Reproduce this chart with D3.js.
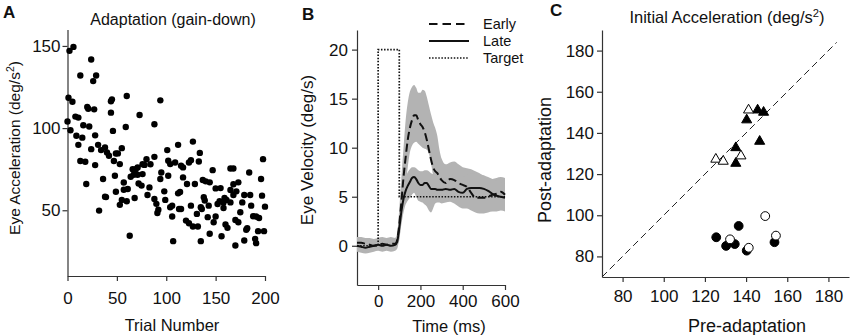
<!DOCTYPE html>
<html>
<head>
<meta charset="utf-8">
<script src="https://cdn.jsdelivr.net/npm/d3@7"></script>
<style>
	html, body { margin: 0; padding: 0; background: #fff; }
	svg { display: block; }
</style>
</head>
<body>
<svg id="chart" width="850" height="335"></svg>
<script>
// ===== Panel A: eye acceleration per trial =====
const trialNumber = [
	2, 6, 13, 24, 26, 29, 1, 5, 20, 27, 45, 44, 0, 8, 11, 16, 22, 3, 9, 15,
	28, 11, 24, 31, 34, 38, 40, 42, 49, 47, 13, 18, 28, 36, 48, 19, 49, 38, 32, 46,
	21, 39, 44,
	60, 94, 73, 59, 88, 55, 51, 53, 88, 80, 76, 84, 66, 69, 71, 78, 67, 71, 76, 64,
	57, 61, 57, 72, 75, 83, 81, 95, 94, 98, 55, 60, 53, 68, 88, 90, 92, 91, 99, 63,
	102,
	101, 112, 127, 134, 102, 104, 109, 115, 117, 123, 125, 133, 117, 121, 129, 137, 140, 144, 147, 150,
	112, 114, 106, 104, 113, 115, 125, 135, 138, 139, 143, 152, 154, 106, 120, 123, 127, 132, 136, 131,
	142, 150, 148, 144, 107, 135,
	198, 165, 168, 184, 196, 173, 155, 165, 171, 168, 179, 185, 197, 159, 161, 158, 165, 177, 186, 200,
	158, 175, 188, 191, 194, 170, 173, 160, 162, 182, 181, 193, 199, 156, 179, 190, 191, 170, 168
];
const eyeAccel = [
	147, 149.4, 132, 141.7, 128.6, 132, 118.5, 116, 112.8, 111.4, 117.5, 109.4, 104, 107, 106.4, 101.7, 101, 98.7, 95.3, 94.2,
	95.6, 89.8, 87.2, 89.8, 86.6, 88.2, 85.2, 83.2, 84.5, 80, 80, 79.5, 77.5, 69, 71, 66, 61.3, 58.3, 49.8, 98.3,
	111.8, 58, 116.3,
	119.5, 116.9, 108, 100.7, 102.3, 87.8, 84.6, 78.1, 82.5, 81, 78, 78, 75, 75, 76, 77.6, 71.6, 71.6, 72, 70.4,
	66.9, 62.9, 62.5, 66.3, 65, 63.9, 59.3, 73, 69, 61.5, 56.3, 55.5, 53.3, 57.5, 56.9, 53.9, 50.3, 48.3, 56.3, 34.5,
	71,
	86.6, 89.8, 91.8, 84.9, 80.1, 78.1, 79.1, 77.1, 76.1, 79.1, 80.5, 79.7, 70, 66, 66, 68.4, 67.6, 67, 74.4, 63.3,
	60.3, 61.1, 52.8, 51.8, 50.8, 50.8, 52.8, 51.8, 57.9, 55.9, 52.8, 53.8, 55.5, 46.2, 43.7, 42.1, 40.1, 40.1, 50.8, 47.8,
	45.8, 46.2, 42.7, 35.7, 31.2, 31.2,
	81.1, 75.4, 75.4, 73, 69, 67, 63.5, 62.3, 61.5, 59.3, 59.3, 59.3, 58.9, 57.5, 56.3, 54.8, 54.8, 54.8, 52.8, 52.2,
	51.4, 48.8, 46.4, 46.2, 45.3, 44.1, 42.7, 41.3, 39.3, 39.1, 38.1, 37.3, 37.3, 34.2, 31.6, 32.6, 30, 28.6, 65.8
];
const trialTicks = [0, 50, 100, 150, 200];
const accelTicks = [50, 100, 150];

// ===== Panel B: mean eye velocity traces (deg/s) with error bands =====
const timeMs = [-100, -80, -60, -40, -20, 0, 20, 40, 60, 80,
	90, 100, 110, 120, 130, 140, 150, 160, 170, 180, 190, 200, 210, 220, 230, 240, 250, 260, 270, 280, 290, 300,
	320, 340, 360, 380, 400, 420, 440, 460, 480, 500, 520, 540, 560, 580, 600];
const earlyMean = [0.3, 0.3, 0.2, 0.1, 0, 0.1, 0.2, 0.1, 0.2, 0.2,
	0.6, 2.2, 4.5, 7.0, 9.0, 10.8, 12.0, 12.8, 13.3, 13.3, 12.8, 12.4, 12.1, 11.6, 10.8, 9.8, 8.8, 8.0, 7.6, 7.4, 7.0, 6.7,
	6.4, 6.8, 6.7, 6.4, 6.2, 6.0, 5.4, 4.9, 4.9, 4.9, 5.0, 5.2, 5.3, 5.5, 5.2];
const earlyLo = [-0.3, -0.3, -0.4, -0.4, -0.5, -0.4, -0.3, -0.4, -0.3, -0.3,
	0.1, 0.6, 2.5, 4.2, 6.0, 8.0, 9.5, 10.2, 10.5, 10.6, 10.4, 10.2, 10.0, 9.9, 9.8, 9.4, 8.4, 7.2, 6.3, 5.8, 5.5, 5.2,
	5.0, 5.3, 5.2, 5.0, 4.8, 4.6, 4.2, 3.8, 3.6, 3.6, 3.6, 3.7, 3.8, 4.0, 3.8];
const earlyHi = [0.9, 0.9, 0.8, 0.8, 0.7, 0.8, 0.9, 0.8, 0.9, 0.8,
	1.3, 3.8, 7.0, 10.0, 12.8, 14.6, 15.7, 16.2, 16.4, 16.1, 15.6, 15.6, 15.9, 15.8, 15.2, 14.3, 13.4, 12.6, 12.0, 11.2, 9.8, 8.9,
	8.3, 8.5, 8.6, 8.3, 8.0, 7.9, 7.8, 7.6, 7.4, 7.1, 6.9, 6.8, 6.9, 7.0, 6.9];
const lateMean = [0, -0.1, -0.2, -0.1, 0, 0.1, 0, 0.1, 0, 0.1,
	0.4, 1.8, 3.5, 4.8, 5.6, 6.1, 6.5, 6.9, 7.0, 6.8, 6.4, 6.2, 6.2, 6.4, 6.4, 6.1, 5.8, 5.8, 5.8, 5.7, 5.7, 5.7,
	5.8, 5.7, 5.8, 5.5, 5.4, 5.8, 5.9, 5.9, 5.9, 5.8, 5.6, 5.3, 5.1, 5.0, 4.9];
const lateLo = [-0.6, -0.7, -0.8, -0.7, -0.6, -0.5, -0.6, -0.5, -0.6, -0.5,
	-0.3, 0.8, 2.2, 3.4, 4.2, 4.6, 4.9, 5.2, 5.4, 5.0, 4.6, 4.5, 4.4, 4.2, 4.0, 3.6, 3.4, 3.8, 4.3, 4.4, 4.4, 4.3,
	4.4, 4.5, 4.3, 4.0, 3.8, 3.8, 3.6, 3.4, 3.3, 3.3, 3.4, 3.5, 3.5, 3.6, 3.5];
const lateHi = [0.6, 0.5, 0.5, 0.6, 0.6, 0.7, 0.6, 0.7, 0.6, 0.7,
	1.0, 2.8, 4.8, 6.2, 7.0, 7.5, 7.8, 8.0, 8.0, 7.9, 7.7, 7.6, 7.6, 7.7, 7.7, 7.6, 7.4, 7.3, 7.2, 7.2, 7.2, 7.2,
	7.3, 7.2, 7.3, 7.0, 7.0, 7.3, 7.4, 7.4, 7.3, 7.2, 7.0, 6.8, 6.6, 6.5, 6.3];
const targetTime = [-100, 0, 0, 100, 100, 600];
const targetVel = [0, 0, 20, 20, 5, 5];
const timeTicks = [0, 200, 400, 600];
const velTicks = [0, 5, 10, 15, 20];
const legendLabels = ['Early', 'Late', 'Target'];

// ===== Panel C: initial acceleration pre vs post =====
const triFilledPre = [145.6, 148.5, 140.3, 146.6, 135.0, 135.0];
const triFilledPost = [151.1, 150.0, 146.3, 135.9, 132.8, 125.2];
const triOpenPre = [125.3, 128.9, 137.5, 141.2];
const triOpenPost = [127.2, 126.2, 128.8, 151.1];
const circFilledPre = [125.5, 130.3, 134.5, 136.4, 140.3, 153.8];
const circFilledPost = [89.3, 85.1, 86.0, 94.8, 82.8, 86.9];
const circOpenPre = [132.2, 141.3, 149.3, 154.5];
const circOpenPost = [88.3, 84.2, 99.6, 90.1];
const accTicksC = [80, 100, 120, 140, 160, 180];
const unityLine = [70, 184];

const FONT = '"Liberation Sans", Arial, Helvetica, sans-serif';
const AXIS = '#333';
const svg = d3.select('#chart').attr('font-family', FONT);

function styleAxis(g, size) {
	g.select('.domain').attr('stroke', AXIS).attr('stroke-width', 1.2);
	g.selectAll('.tick line').attr('stroke', AXIS).attr('stroke-width', 1.2);
	g.selectAll('.tick text').attr('fill', '#111').attr('font-size', size).attr('font-family', FONT);
}

// テキスト + 上付き "2"
function addText(x, y, parts, opts) {
	const t = svg.append('text')
		.attr('x', x).attr('y', y)
		.attr('font-size', opts.size)
		.attr('text-anchor', opts.anchor || 'middle')
		.attr('fill', '#111');
	if (opts.weight) t.attr('font-weight', opts.weight);
	if (opts.rotate) t.attr('transform', `rotate(-90,${x},${y})`);
	parts.forEach(p => {
		const s = t.append('tspan').text(p.text);
		if (p.sup) s.attr('dy', -opts.size * 0.38).attr('font-size', opts.size * 0.68);
		if (p.down) s.attr('dy', opts.size * 0.38);
	});
	return t;
}

// ===== Panel A =====
const xA = d3.scaleLinear().domain([0, 200]).range([67.5, 265]);
const yA = d3.scaleLinear().domain([10, 160]).range([276, 29.5]);

svg.append('g').attr('transform', 'translate(0,276)')
	.call(d3.axisBottom(xA).tickValues(trialTicks).tickSize(5).tickSizeOuter(0).tickPadding(11))
	.call(g => styleAxis(g, 17));
svg.append('g').attr('transform', 'translate(67.5,0)')
	.call(d3.axisLeft(yA).tickValues(accelTicks).tickSize(5).tickSizeOuter(0).tickPadding(2))
	.call(g => styleAxis(g, 17));

svg.append('g').selectAll('circle')
	.data(trialNumber.map((t, i) => [t, eyeAccel[i]]))
	.enter().append('circle')
	.attr('cx', d => xA(d[0]))
	.attr('cy', d => yA(d[1]))
	.attr('r', 3.2)
	.attr('fill', '#000');

addText(3, 18, [{ text: 'A' }], { size: 17, anchor: 'start', weight: 'bold' });
addText(173, 25, [{ text: 'Adaptation (gain-down)' }], { size: 16 });
addText(172, 331, [{ text: 'Trial Number' }], { size: 16.5 });
addText(20, 148, [{ text: 'Eye Acceleration (deg/s' }, { text: '2', sup: true }, { text: ')', down: true }],
	{ size: 15.5, rotate: true });

// ===== Panel B =====
const xB = d3.scaleLinear().domain([-100, 600]).range([357, 505]);
const yB = d3.scaleLinear().domain([-4, 22]).range([285, 30]);

svg.append('g').attr('transform', 'translate(0,285)')
	.call(d3.axisBottom(xB).tickValues(timeTicks).tickSize(5).tickSizeOuter(0).tickPadding(5))
	.call(g => styleAxis(g, 17));
svg.append('g').attr('transform', 'translate(357,0)')
	.call(d3.axisLeft(yB).tickValues(velTicks).tickSize(5).tickSizeOuter(0).tickPadding(4))
	.call(g => styleAxis(g, 17));

const band = (lo, hi) => d3.area()
	.x((d, i) => xB(timeMs[i]))
	.y0((d, i) => yB(lo[i]))
	.y1((d, i) => yB(hi[i]))
	.curve(d3.curveMonotoneX)(timeMs);
const trace = vals => d3.line()
	.x((d, i) => xB(timeMs[i]))
	.y((d, i) => yB(vals[i]))
	.curve(d3.curveMonotoneX)(timeMs);

const gB = svg.append('g');
gB.append('path').attr('d', band(earlyLo, earlyHi)).attr('fill', '#b3b3b3');
gB.append('path').attr('d', band(lateLo, lateHi)).attr('fill', '#b3b3b3');
gB.append('path')
	.attr('d', d3.line().x((d, i) => xB(targetTime[i])).y((d, i) => yB(targetVel[i]))(targetTime))
	.attr('fill', 'none').attr('stroke', '#111').attr('stroke-width', 1.7).attr('stroke-dasharray', '1.5,1.6');
gB.append('path').attr('d', trace(earlyMean))
	.attr('fill', 'none').attr('stroke', '#111').attr('stroke-width', 2).attr('stroke-dasharray', '8,4');
gB.append('path').attr('d', trace(lateMean))
	.attr('fill', 'none').attr('stroke', '#111').attr('stroke-width', 2);

// 凡例
const legendDash = ['8.5,5', null, '1.5,1.6'];
const legendWidth = [2, 2, 1.7];
legendLabels.forEach((lab, i) => {
	const y = 24 + i * 17;
	const ln = svg.append('line')
		.attr('x1', 429).attr('x2', 469).attr('y1', y).attr('y2', y)
		.attr('stroke', '#111').attr('stroke-width', legendWidth[i]);
	if (legendDash[i]) ln.attr('stroke-dasharray', legendDash[i]);
	svg.append('text').attr('x', 483).attr('y', y + 5)
		.attr('font-size', 14.5).attr('fill', '#111').text(lab);
});

addText(302, 20, [{ text: 'B' }], { size: 17, anchor: 'start', weight: 'bold' });
addText(449, 332, [{ text: 'Time (ms)' }], { size: 16.5 });
addText(313, 150, [{ text: 'Eye Velocity (deg/s)' }], { size: 17, rotate: true });

// ===== Panel C =====
const xC = d3.scaleLinear().domain([70, 190]).range([602, 849]);
const yC = d3.scaleLinear().domain([70, 190]).range([277, 30]);

svg.append('g').attr('transform', 'translate(0,277)')
	.call(d3.axisBottom(xC).tickValues(accTicksC).tickSize(5).tickSizeOuter(0).tickPadding(8))
	.call(g => styleAxis(g, 17));
svg.append('g').attr('transform', 'translate(602,0)')
	.call(d3.axisLeft(yC).tickValues(accTicksC).tickSize(5).tickSizeOuter(0).tickPadding(3))
	.call(g => styleAxis(g, 17));

svg.append('line')
	.attr('x1', xC(unityLine[0])).attr('y1', yC(unityLine[0]))
	.attr('x2', xC(unityLine[1])).attr('y2', yC(unityLine[1]))
	.attr('stroke', '#222').attr('stroke-width', 1).attr('stroke-dasharray', '7,4');

const tri = d3.symbol().type(d3.symbolTriangle).size(44)();
const gC = svg.append('g');
function drawMarks(pre, post, shape, filled) {
	const sel = gC.selectAll(null).data(pre.map((p, i) => [p, post[i]]));
	let m;
	if (shape === 'tri') {
		m = sel.enter().append('path').attr('d', tri)
			.attr('transform', d => `translate(${xC(d[0])},${yC(d[1])})`);
	} else {
		m = sel.enter().append('circle')
			.attr('cx', d => xC(d[0])).attr('cy', d => yC(d[1])).attr('r', 4.4);
	}
	m.attr('fill', filled ? '#000' : '#fff').attr('stroke', '#000').attr('stroke-width', 1);
}
drawMarks(triFilledPre, triFilledPost, 'tri', true);
drawMarks(circFilledPre, circFilledPost, 'circle', true);
drawMarks(triOpenPre, triOpenPost, 'tri', false);
drawMarks(circOpenPre, circOpenPost, 'circle', false);

addText(550, 16, [{ text: 'C' }], { size: 17, anchor: 'start', weight: 'bold' });
addText(727, 23, [{ text: 'Initial Acceleration (deg/s' }, { text: '2', sup: true }, { text: ')', down: true }],
	{ size: 16.5 });
addText(747, 332, [{ text: 'Pre-adaptation' }], { size: 18 });
addText(551, 160, [{ text: 'Post-adaptation' }], { size: 18, rotate: true });
</script>
</body>
</html>
